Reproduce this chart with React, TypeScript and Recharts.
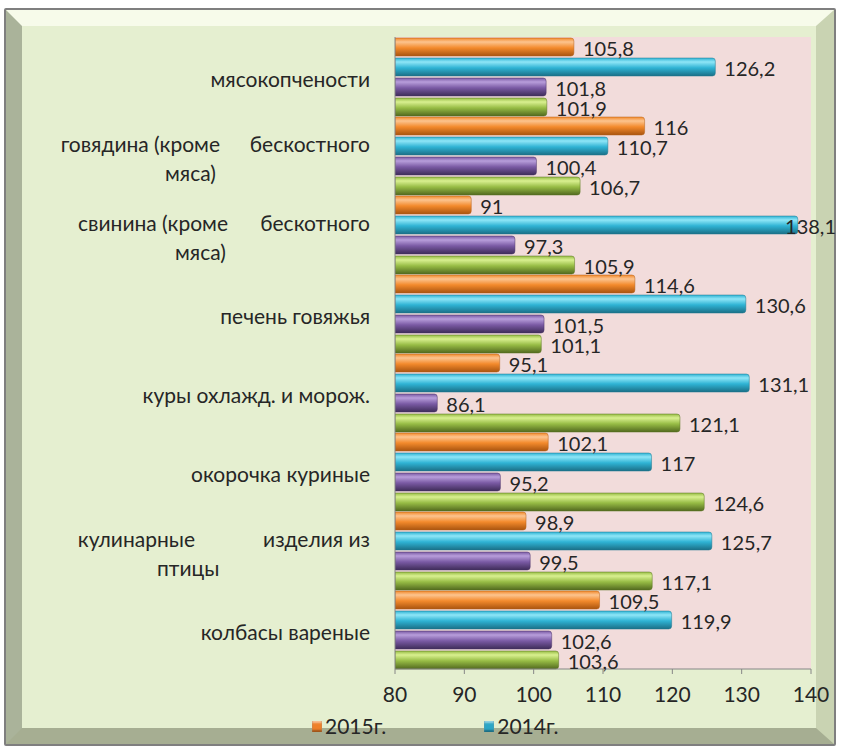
import React from "react";
import { BarChart, Bar, XAxis, YAxis, CartesianGrid, Legend, LabelList } from "recharts";

// категории сверху вниз
const categories = [
  "мясокопчености",
  "говядина (кроме бескостного мяса)",
  "свинина (кроме бескотного мяса)",
  "печень говяжья",
  "куры охлажд. и морож.",
  "окорочка куриные",
  "кулинарные изделия из птицы",
  "колбасы вареные",
];

const y2015 = [105.8, 116, 91, 114.6, 95.1, 102.1, 98.9, 109.5];
const y2014 = [126.2, 110.7, 138.1, 130.6, 131.1, 117, 125.7, 119.9];
const y2013 = [101.8, 100.4, 97.3, 101.5, 86.1, 95.2, 99.5, 102.6];
const y2012 = [101.9, 106.7, 105.9, 101.1, 121.1, 124.6, 117.1, 103.6];

const xTicks = [80, 90, 100, 110, 120, 130, 140];

const data = categories.map((name, i) => ({
  name,
  y2015: y2015[i],
  y2014: y2014[i],
  y2013: y2013[i],
  y2012: y2012[i],
}));

const FONT = "Lato, 'Noto Sans', sans-serif";
const TEXT = "#262626";

const legendColor: Record<string, string> = {
  y2015: "#ef8128",
  y2014: "#2ba6c6",
};
const legendOrder = ["y2015", "y2014"];

// подписи, которые в оригинале переносятся на две строки
const wrapped: Record<string, { a: string; aEnd: number; b: string; second: string; secondX: number }> = {
  "говядина (кроме бескостного мяса)": { a: "говядина (кроме", aEnd: 220, b: "бескостного", second: "мяса)", secondX: 165 },
  "свинина (кроме бескотного мяса)": { a: "свинина (кроме", aEnd: 228, b: "бескотного", second: "мяса)", secondX: 175 },
  "кулинарные изделия из птицы": { a: "кулинарные", aEnd: 195, b: "изделия из", second: "птицы", secondX: 157 },
};

const CategoryTick = (props: any) => {
  const { x, y, payload } = props;
  const w = wrapped[payload.value];
  const common = { fontFamily: FONT, fontSize: 21, fill: TEXT };
  if (!w) {
    return (
      <text x={x} y={y + 10} textAnchor="end" {...common}>
        {payload.value}
      </text>
    );
  }
  return (
    <g>
      <text x={w.aEnd} y={y - 4} textAnchor="end" {...common}>{w.a}</text>
      <text x={x} y={y - 4} textAnchor="end" {...common}>{w.b}</text>
      <text x={w.secondX} y={y + 25} textAnchor="start" {...common}>{w.second}</text>
    </g>
  );
};

const ValueLabel = (props: any) => {
  const { x, y, width, height, value } = props;
  const txt = String(value).replace(".", ",");
  let tx = x + width + 9;
  let anchor: "start" | "end" = "start";
  if (tx + txt.length * 11 > 836) {
    tx = 836;
    anchor = "end";
  }
  return (
    <text x={tx} y={y + height / 2 + 9} textAnchor={anchor} fontFamily={FONT} fontSize={20} fill={TEXT}>
      {txt}
    </text>
  );
};

const LegendContent = (props: any) => {
  const items = (props.payload || [])
    .filter((p: any) => p.type !== "none")
    .sort((a: any, b: any) => legendOrder.indexOf(a.dataKey) - legendOrder.indexOf(b.dataKey));
  return (
    <div style={{ display: "flex", gap: 98, fontFamily: FONT, fontSize: 21, color: TEXT, lineHeight: "24px" }}>
      {items.map((p: any) => (
        <div key={p.value} style={{ display: "flex", alignItems: "center", gap: 3 }}>
          <span
            style={{
              width: 10,
              height: 11,
              display: "inline-block",
              background: legendColor[p.dataKey],
              boxShadow: "inset 0 -2px 2px rgba(0,0,0,0.35), inset 0 2px 2px rgba(255,255,255,0.5)",
            }}
          />
          <span>{p.value}</span>
        </div>
      ))}
    </div>
  );
};

const grad = (id: string, top: string, mid: string, bottom: string) => (
  <linearGradient id={id} x1="0" y1="0" x2="0" y2="1">
    <stop offset="0%" stopColor={mid} />
    <stop offset="22%" stopColor={top} />
    <stop offset="55%" stopColor={mid} />
    <stop offset="100%" stopColor={bottom} />
  </linearGradient>
);

export default function App() {
  return (
    <div style={{ position: "absolute", left: 0, top: 0, width: 842, height: 755, background: "#ffffff" }}>
      <div
        style={{
          position: "absolute",
          left: 4,
          top: 8,
          width: 832,
          height: 738,
          border: "2px solid #7f7f7f",
          boxSizing: "border-box",
          borderRadius: 2,
        }}
      >
        <div
          style={{
            position: "absolute",
            inset: 0,
            borderStyle: "solid",
            borderWidth: "16px 18px 16px 16px",
            borderColor: "#f7fbea #c9d3b2 #a6ae92 #aab39a",
            background: "#e5efd0",
          }}
        />
      </div>
      <div style={{ position: "absolute", left: 0, top: 0 }}>
        <BarChart
          width={842}
          height={755}
          data={data}
          layout="vertical"
          margin={{ top: 37, right: 31, left: 10, bottom: 12 }}
          barCategoryGap={1}
          barGap={2}
        >
          <defs>
            {grad("gOrange", "#fcc48f", "#f38a2c", "#a9540f")}
            {grad("gBlue", "#8fe6f7", "#2fb3d4", "#1b6f86")}
            {grad("gPurple", "#b89edb", "#7a5aa4", "#3e2c58")}
            {grad("gGreen", "#d9f090", "#97bc45", "#52691f")}
          </defs>
          <CartesianGrid fill="#f2dcdb" horizontal={false} vertical={false} />
          <XAxis
            type="number"
            domain={[80, 140]}
            ticks={xTicks}
            allowDataOverflow
            height={44}
            stroke="#868686"
            tickSize={5}
            tickMargin={13}
            tick={{ fontFamily: FONT, fontSize: 21, fill: TEXT }}
          />
          <YAxis
            type="category"
            dataKey="name"
            width={385}
            stroke="#868686"
            tickLine={false}
            tickSize={0}
            tickMargin={25}
            interval={0}
            tick={<CategoryTick />}
          />
          <Legend
            verticalAlign="bottom"
            height={30}
            content={<LegendContent />}
            wrapperStyle={{ left: 312, width: 360, top: 714 }}
          />
          <Bar dataKey="y2015" name="2015г." fill="url(#gOrange)" stroke="#b5621a" strokeWidth={0.5} radius={[0, 3, 3, 0]} isAnimationActive={false}>
            <LabelList dataKey="y2015" content={<ValueLabel />} />
          </Bar>
          <Bar dataKey="y2014" name="2014г." fill="url(#gBlue)" stroke="#1e7890" strokeWidth={0.5} radius={[0, 3, 3, 0]} isAnimationActive={false}>
            <LabelList dataKey="y2014" content={<ValueLabel />} />
          </Bar>
          <Bar dataKey="y2013" name="2013г." legendType="none" fill="url(#gPurple)" stroke="#4a3468" strokeWidth={0.5} radius={[0, 3, 3, 0]} isAnimationActive={false}>
            <LabelList dataKey="y2013" content={<ValueLabel />} />
          </Bar>
          <Bar dataKey="y2012" name="2012г." legendType="none" fill="url(#gGreen)" stroke="#5b7523" strokeWidth={0.5} radius={[0, 3, 3, 0]} isAnimationActive={false}>
            <LabelList dataKey="y2012" content={<ValueLabel />} />
          </Bar>
        </BarChart>
      </div>
    </div>
  );
}
